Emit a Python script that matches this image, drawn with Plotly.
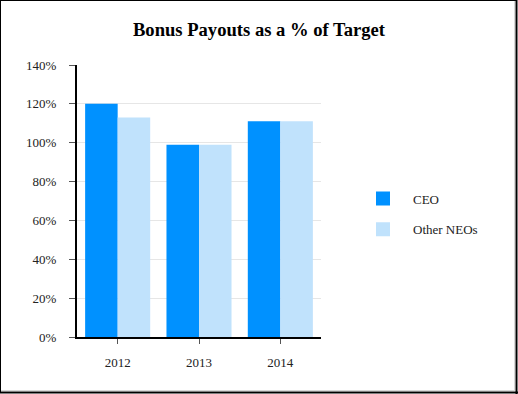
import plotly.graph_objects as go

years = ["2012", "2013", "2014"]
ceo = [120, 99, 111]
other_neos = [113, 99, 111]
y_ticks = [0, 20, 40, 60, 80, 100, 120, 140]
y_tick_labels = ["0%", "20%", "40%", "60%", "80%", "100%", "120%", "140%"]

W, H = 518, 394
L, R, T, B = 77, 197, 65, 57
PW, PH = W - L - R, H - T - B

def px(x):
    return (x - L) / PW

def py(y):
    return (H - B - y) / PH

CEO_COLOR = "#0091ff"
NEO_COLOR = "#c0e2fc"
FONT = "Liberation Serif, Times New Roman, serif"

fig = go.Figure()
fig.add_trace(go.Bar(x=years, y=ceo, name="CEO", marker=dict(color=CEO_COLOR, line=dict(width=0)), showlegend=False))
fig.add_trace(go.Bar(x=years, y=other_neos, name="Other NEOs", marker=dict(color=NEO_COLOR, line=dict(width=0)), showlegend=False))
# legend entries (square swatches)
fig.add_trace(go.Scatter(x=[None], y=[None], mode="markers", name="CEO", legendgroup="a",
                         marker=dict(symbol="square", size=14, color=CEO_COLOR)))
fig.add_trace(go.Scatter(x=[None], y=[None], mode="markers", name="Other NEOs", legendgroup="b",
                         marker=dict(symbol="square", size=14, color=NEO_COLOR)))

shapes = [
    dict(type="line", xref="paper", yref="paper", x0=px(0.5), x1=px(0.5), y0=py(0), y1=py(393), line=dict(color="black", width=1)),
    dict(type="line", xref="paper", yref="paper", x0=px(0), x1=px(517), y0=py(0.5), y1=py(0.5), line=dict(color="black", width=1)),
    dict(type="line", xref="paper", yref="paper", x0=px(516.5), x1=px(516.5), y0=py(0), y1=py(394), line=dict(color="black", width=2)),
    dict(type="line", xref="paper", yref="paper", x0=px(0), x1=px(518), y0=py(392.5), y1=py(392.5), line=dict(color="black", width=2)),
    dict(type="line", xref="paper", yref="paper", x0=px(514.5), x1=px(514.5), y0=py(1), y1=py(391), line=dict(color="#d8d8d8", width=1)),
    dict(type="line", xref="paper", yref="paper", x0=px(1), x1=px(515), y0=py(390.5), y1=py(390.5), line=dict(color="#d8d8d8", width=1)),
]

fig.update_layout(
    width=W, height=H,
    margin=dict(l=L, r=R, t=T, b=B),
    paper_bgcolor="white", plot_bgcolor="white",
    font=dict(family=FONT, size=13, color="#222"),
    title=dict(text="<b>Bonus Payouts as a % of Target</b>", x=0.5, xref="container", xanchor="center",
               y=1 - 29 / H, yref="container", yanchor="middle",
               font=dict(family=FONT, size=18.6, color="black")),
    barmode="group", bargap=0.2, bargroupgap=0,
    showlegend=True,
    legend=dict(x=px(353), xanchor="left", y=py(214), yanchor="middle", itemwidth=50,
                tracegroupgap=11, font=dict(family=FONT, size=13, color="#222"),
                bgcolor="rgba(0,0,0,0)"),
    shapes=shapes,
)
fig.update_xaxes(type="category", showline=True, linecolor="black", linewidth=2, showgrid=False,
                 ticks="outside", ticklen=5, tickcolor="#555", tickwidth=1, ticklabelstandoff=7,
                 zeroline=False)
fig.update_yaxes(range=[0, 140], tickvals=y_ticks, ticktext=y_tick_labels, showline=True, linecolor="black",
                 linewidth=2, showgrid=True, gridcolor="#e6e6e6", gridwidth=1, ticks="outside", ticklen=6,
                 tickcolor="#555", tickwidth=1, ticklabelstandoff=10, zeroline=False)

fig.write_html("out.html", config={"displayModeBar": False},
               post_script="document.body.style.margin='0';document.body.style.overflow='hidden';")
